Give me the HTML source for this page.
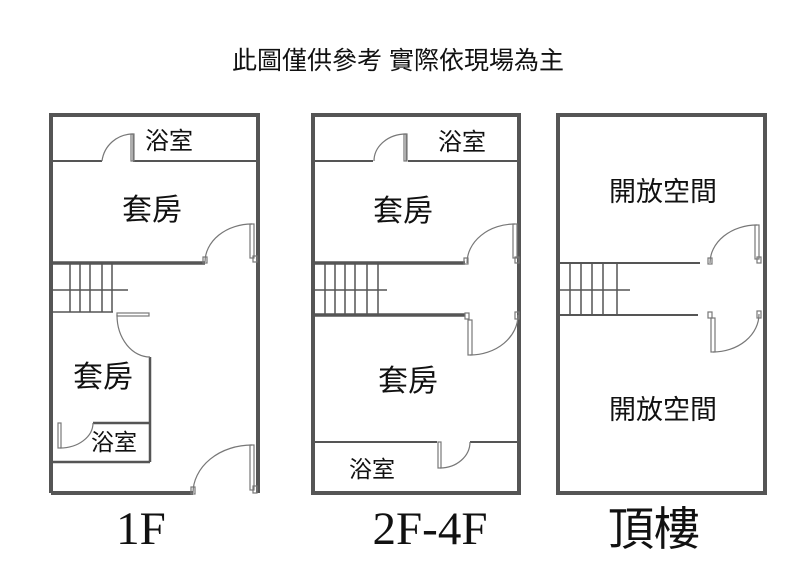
<!DOCTYPE html>
<html><head><meta charset="utf-8"><style>
html,body{margin:0;padding:0;background:#fff}
svg{display:block}
.cj{font-family:"Liberation Sans","Noto Sans CJK TC",sans-serif;fill:#111}
.sf{font-family:"Liberation Serif","Noto Serif CJK SC",serif;fill:#111}
</style></head><body>
<svg width="800" height="577" viewBox="0 0 800 577" xmlns="http://www.w3.org/2000/svg">
<rect width="800" height="577" fill="#fff"/>
<text x="398" y="69" text-anchor="middle" class="cj" font-size="25">此圖僅供參考 實際依現場為主</text>

<g stroke="#555" fill="none">
<path d="M51,493 V115 H258 V493" stroke-width="4"/>
<path d="M51,493 H193" stroke-width="4"/>
<path d="M51,161 H102 M133,161 H258" stroke-width="2"/>
<path d="M51,263 H205" stroke-width="3.5"/>
<path d="M150,357 V462 M51,462 H150 M93,423 H150" stroke-width="2.5"/>
<path d="M70,263 V312 M80,263 V312 M90,263 V312 M102,263 V312 M112,263 V312 M51,290 H128 M51,312 H113" stroke-width="1.5"/>
<g stroke-width="1.2" stroke="#777">
<path d="M133,161 V134 A31,31 0 0 0 102,161"/><rect x="131" y="134" width="3" height="27"/>
<path d="M252,224 A47,38 0 0 0 205,262"/><rect x="250" y="224" width="4" height="34"/><rect x="203" y="257" width="4" height="6"/><rect x="253" y="256" width="4" height="6"/>
<path d="M117,315 A33,42 0 0 0 150,357"/><rect x="117" y="313" width="32" height="3"/>
<path d="M60,448 A33,25 0 0 0 93,423"/><rect x="58" y="423" width="3" height="25"/>
<path d="M252,445 A59,48 0 0 0 193,493"/><rect x="250" y="445" width="4" height="45"/><rect x="191" y="487" width="4" height="7"/><rect x="253" y="486" width="4" height="7"/>
</g>

<path d="M313,493 V115 H519 V493 Z" stroke-width="4"/>
<path d="M313,161 H373 M408,161 H519" stroke-width="2"/>
<path d="M313,263 H465 M313,315 H465" stroke-width="3.5"/>
<path d="M313,442 H437 M470,442 H519" stroke-width="2"/>
<path d="M325,263 V315 M335,263 V315 M345,263 V315 M355,263 V315 M367,263 V315 M378,263 V315 M313,290 H387" stroke-width="1.5"/>
<g stroke-width="1.2" stroke="#777">
<path d="M406,161 V134 A32,27 0 0 0 374,161"/><rect x="404" y="134" width="3" height="27"/>
<path d="M515,224 A48,39 0 0 0 467,263"/><rect x="513" y="224" width="4" height="34"/><rect x="464" y="258" width="4" height="6"/><rect x="515" y="257" width="4" height="6"/>
<path d="M470,355 A48,40 0 0 0 518,315"/><rect x="468" y="320" width="4" height="35"/><rect x="465" y="313" width="4" height="6"/><rect x="515" y="312" width="4" height="7"/>
<path d="M440,468 A30,26 0 0 0 470,442"/><rect x="438" y="442" width="3" height="26"/>
</g>

<path d="M558,493 V115 H765 V493 Z" stroke-width="4"/>
<path d="M558,263 H700 M558,315 H698" stroke-width="2"/>
<path d="M570,263 V315 M581,263 V315 M592,263 V315 M603,263 V315 M617,263 V315 M558,290 H630" stroke-width="1.5"/>
<g stroke-width="1.2" stroke="#777">
<path d="M757,225 A47,38 0 0 0 710,263"/><rect x="755" y="225" width="4" height="34"/><rect x="708" y="258" width="4" height="6"/><rect x="757" y="257" width="4" height="6"/>
<path d="M713,352 A46,38 0 0 0 759,314"/><rect x="711" y="318" width="4" height="34"/><rect x="708" y="312" width="4" height="6"/><rect x="757" y="311" width="4" height="7"/>
</g>
</g>

<g class="cj">
<text x="169" y="149" text-anchor="middle" font-size="24">浴室</text>
<text x="152" y="220" text-anchor="middle" font-size="30">套房</text>
<text x="103" y="387" text-anchor="middle" font-size="30">套房</text>
<text x="114" y="450" text-anchor="middle" font-size="23">浴室</text>
<text x="462" y="150" text-anchor="middle" font-size="24">浴室</text>
<text x="403" y="221" text-anchor="middle" font-size="30">套房</text>
<text x="408" y="391" text-anchor="middle" font-size="30">套房</text>
<text x="372" y="477" text-anchor="middle" font-size="23">浴室</text>
<text x="663" y="201" text-anchor="middle" font-size="27">開放空間</text>
<text x="663" y="419" text-anchor="middle" font-size="27">開放空間</text>
</g>
<text x="141" y="544" text-anchor="middle" class="sf" font-size="47">1F</text>
<text x="430" y="544" text-anchor="middle" class="sf" font-size="47">2F-4F</text>
<text x="654" y="545" text-anchor="middle" class="cj" font-size="46">頂樓</text>
</svg>
</body></html>
